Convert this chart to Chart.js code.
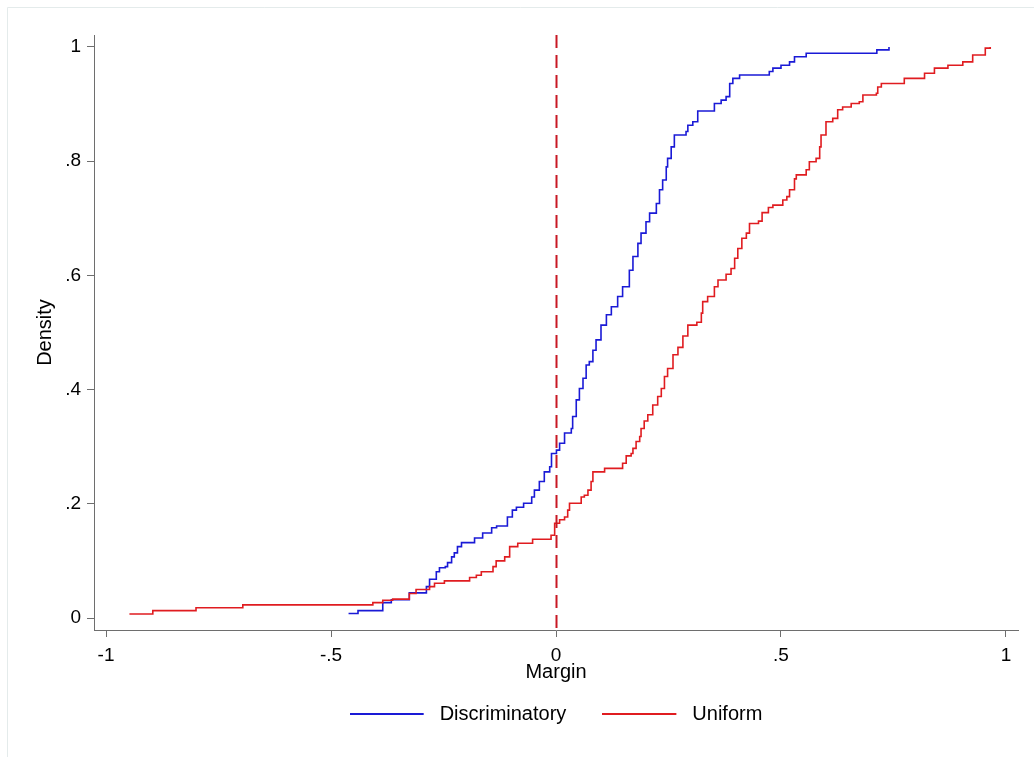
<!DOCTYPE html>
<html>
<head>
<meta charset="utf-8">
<script src="https://cdn.jsdelivr.net/npm/chart.js@4"></script>
<style>
  html, body { margin: 0; padding: 0; background: #ffffff; }
  #wrap { width: 1034px; height: 757px; }
</style>
</head>
<body>
<div id="wrap"><canvas id="c" width="1034" height="757"></canvas></div>
<script>
const seriesNames = ['Discriminatory', 'Uniform'];

const discX = [
  -0.461,-0.440,-0.385,-0.366,-0.326,-0.288,-0.281,-0.266,-0.259,-0.246,
  -0.241,-0.232,-0.226,-0.219,-0.210,-0.181,-0.163,-0.143,-0.132,-0.108,
  -0.097,-0.088,-0.072,-0.054,-0.048,-0.037,-0.026,-0.014,-0.010,0.001,
  0.008,0.019,0.034,0.037,0.045,0.052,0.060,0.067,0.074,0.082,
  0.089,0.100,0.112,0.123,0.137,0.148,0.163,0.171,0.182,0.189,
  0.200,0.208,0.223,0.230,0.237,0.245,0.248,0.256,0.263,0.289,
  0.293,0.304,0.315,0.352,0.367,0.378,0.386,0.393,0.408,0.474,
  0.482,0.500,0.519,0.530,0.556,0.713,0.740
];
const discY = [
  0.008,0.013,0.027,0.032,0.044,0.055,0.068,0.081,0.088,0.090,
  0.097,0.107,0.114,0.125,0.132,0.140,0.149,0.158,0.161,0.177,
  0.189,0.194,0.201,0.212,0.224,0.239,0.256,0.265,0.288,0.294,
  0.306,0.324,0.332,0.353,0.382,0.402,0.420,0.443,0.449,0.469,
  0.487,0.513,0.531,0.545,0.563,0.580,0.609,0.633,0.656,0.674,
  0.694,0.709,0.726,0.750,0.767,0.790,0.805,0.825,0.846,0.852,
  0.863,0.869,0.888,0.901,0.907,0.913,0.936,0.945,0.951,0.957,
  0.963,0.968,0.974,0.983,0.989,0.995,1.000
];

const unifX = [
  -0.948,-0.896,-0.800,-0.696,-0.407,-0.385,-0.363,-0.326,-0.311,-0.281,
  -0.270,-0.248,-0.192,-0.177,-0.166,-0.140,-0.133,-0.114,-0.103,-0.085,
  -0.052,-0.011,-0.003,0.008,0.019,0.026,0.030,0.056,0.063,0.071,
  0.078,0.082,0.108,0.148,0.156,0.167,0.171,0.178,0.186,0.189,
  0.196,0.204,0.215,0.226,0.234,0.241,0.248,0.260,0.271,0.282,
  0.293,0.313,0.323,0.326,0.337,0.352,0.360,0.378,0.389,0.397,
  0.404,0.413,0.423,0.430,0.450,0.458,0.472,0.482,0.504,0.513,
  0.519,0.530,0.534,0.556,0.563,0.578,0.586,0.589,0.600,0.615,
  0.626,0.637,0.656,0.674,0.682,0.712,0.715,0.723,0.774,0.819,
  0.841,0.871,0.904,0.926,0.954,0.965
];
const unifY = [
  0.007,0.013,0.018,0.023,0.027,0.031,0.033,0.043,0.050,0.055,
  0.061,0.065,0.071,0.075,0.081,0.090,0.100,0.107,0.125,0.131,
  0.138,0.145,0.166,0.172,0.177,0.189,0.201,0.212,0.215,0.224,
  0.239,0.256,0.262,0.271,0.284,0.288,0.297,0.309,0.318,0.332,
  0.345,0.356,0.373,0.388,0.402,0.423,0.437,0.461,0.474,0.494,
  0.513,0.518,0.534,0.554,0.563,0.580,0.592,0.602,0.612,0.630,
  0.647,0.665,0.674,0.691,0.695,0.710,0.719,0.723,0.732,0.738,
  0.750,0.769,0.776,0.785,0.799,0.805,0.825,0.846,0.869,0.875,
  0.890,0.895,0.901,0.904,0.916,0.919,0.930,0.936,0.945,0.954,
  0.963,0.968,0.974,0.986,0.998,1.000
];

const xTickValues = [-1, -0.5, 0, 0.5, 1];
const xTickLabels = ['-1', '-.5', '0', '.5', '1'];
const yTickValues = [0, 0.2, 0.4, 0.6, 0.8, 1];
const yTickLabels = ['0', '.2', '.4', '.6', '.8', '1'];
const xRange = [-1.0267, 1.0267];
const yRange = [-0.021, 1.021];
const refLineX = 0;
const xTitle = 'Margin';
const yTitle = 'Density';

// ---- Styles ----
const FONT = "'Liberation Sans', Arial, sans-serif";
const BLUE = 'rgb(26,26,214)';
const RED = 'rgb(224,28,32)';
const REFRED = 'rgb(200,24,36)';
const AXIS = '#6e6e6e';

function toPoints(xs, ys) {
  const n = Math.min(xs.length, ys.length);
  const out = [];
  for (let i = 0; i < n; i++) out.push({x: xs[i], y: ys[i]});
  return out;
}

// legend swatch: a 74px line inside an 80px-wide slot
function lineSwatch(color) {
  const c = document.createElement('canvas');
  c.width = 80; c.height = 4;
  const g = c.getContext('2d');
  g.fillStyle = color;
  g.fillRect(0, 1, 74, 2);
  return c;
}

const refLinePlugin = {
  id: 'refLine',
  afterDatasetsDraw(chart) {
    const {ctx, chartArea, scales} = chart;
    const px = Math.round(scales.x.getPixelForValue(refLineX)) + 0.5;
    ctx.save();
    ctx.strokeStyle = REFRED;
    ctx.lineWidth = 2;
    ctx.setLineDash([13, 7]);
    ctx.beginPath();
    ctx.moveTo(px, chartArea.top);
    ctx.lineTo(px, chartArea.bottom);
    ctx.stroke();
    ctx.restore();
  }
};

const framePlugin = {
  id: 'frame',
  beforeDraw(chart) {
    const {ctx, width, height} = chart;
    ctx.save();
    ctx.fillStyle = '#ffffff';
    ctx.fillRect(0, 0, width, height);
    ctx.strokeStyle = '#e4ebeb';
    ctx.lineWidth = 1;
    ctx.beginPath();
    ctx.moveTo(7.5, height);
    ctx.lineTo(7.5, 7.5);
    ctx.lineTo(width, 7.5);
    ctx.stroke();
    ctx.restore();
  }
};

const swatches = [lineSwatch(BLUE), lineSwatch(RED)];

new Chart(document.getElementById('c'), {
  type: 'line',
  data: {
    datasets: [
      {
        label: seriesNames[0],
        data: toPoints(discX, discY),
        borderColor: BLUE,
        backgroundColor: BLUE,
        borderWidth: 1.6,
        pointRadius: 0,
        stepped: 'before',
        fill: false,
        order: 2
      },
      {
        label: seriesNames[1],
        data: toPoints(unifX, unifY),
        borderColor: RED,
        backgroundColor: RED,
        borderWidth: 1.6,
        pointRadius: 0,
        stepped: 'before',
        fill: false,
        order: 1
      }
    ]
  },
  options: {
    responsive: false,
    animation: false,
    devicePixelRatio: 1,
    layout: { padding: { left: 0, top: 35, right: 16, bottom: 23 } },
    plugins: {
      tooltip: { enabled: false },
      legend: {
        position: 'bottom',
        fullSize: false,
        labels: {
          font: { family: FONT, size: 20 },
          color: '#000',
          usePointStyle: true,
          pointStyleWidth: 80,
          boxHeight: 4,
          padding: 36,
          sort: (a, b) => a.datasetIndex - b.datasetIndex,
          generateLabels(chart) {
            const items = Chart.defaults.plugins.legend.labels.generateLabels(chart);
            items.forEach(it => { it.lineWidth = 0; it.pointStyle = swatches[it.datasetIndex]; });
            return items;
          }
        }
      }
    },
    scales: {
      x: {
        type: 'linear',
        min: xRange[0],
        max: xRange[1],
        afterBuildTicks(scale) { scale.ticks = xTickValues.map(v => ({value: v})); },
        afterFit(scale) { scale.height = 38; },
        ticks: {
          autoSkip: false,
          maxRotation: 0,
          padding: 7,
          color: '#000',
          font: { family: FONT, size: 19 },
          callback: (v, i) => xTickLabels[i]
        },
        grid: { display: true, drawOnChartArea: false, drawTicks: true, tickLength: 7, color: AXIS, lineWidth: 1 },
        border: { display: true, color: AXIS, width: 1 },
        title: {
          display: true,
          text: xTitle,
          color: '#000',
          font: { family: FONT, size: 20 },
          padding: { top: 0, bottom: -16 }
        }
      },
      y: {
        type: 'linear',
        min: yRange[0],
        max: yRange[1],
        afterBuildTicks(scale) { scale.ticks = yTickValues.map(v => ({value: v})); },
        afterFit(scale) { scale.width = 94; },
        ticks: {
          autoSkip: false,
          padding: 6,
          color: '#000',
          font: { family: FONT, size: 19 },
          callback: (v, i) => yTickLabels[i]
        },
        grid: { display: true, drawOnChartArea: false, drawTicks: true, tickLength: 7, color: AXIS, lineWidth: 1 },
        border: { display: true, color: AXIS, width: 1 },
        title: {
          display: true,
          text: yTitle,
          color: '#000',
          font: { family: FONT, size: 20 },
          padding: { top: 33, bottom: 0 }
        }
      }
    }
  },
  plugins: [framePlugin, refLinePlugin]
});
</script>
</body>
</html>
